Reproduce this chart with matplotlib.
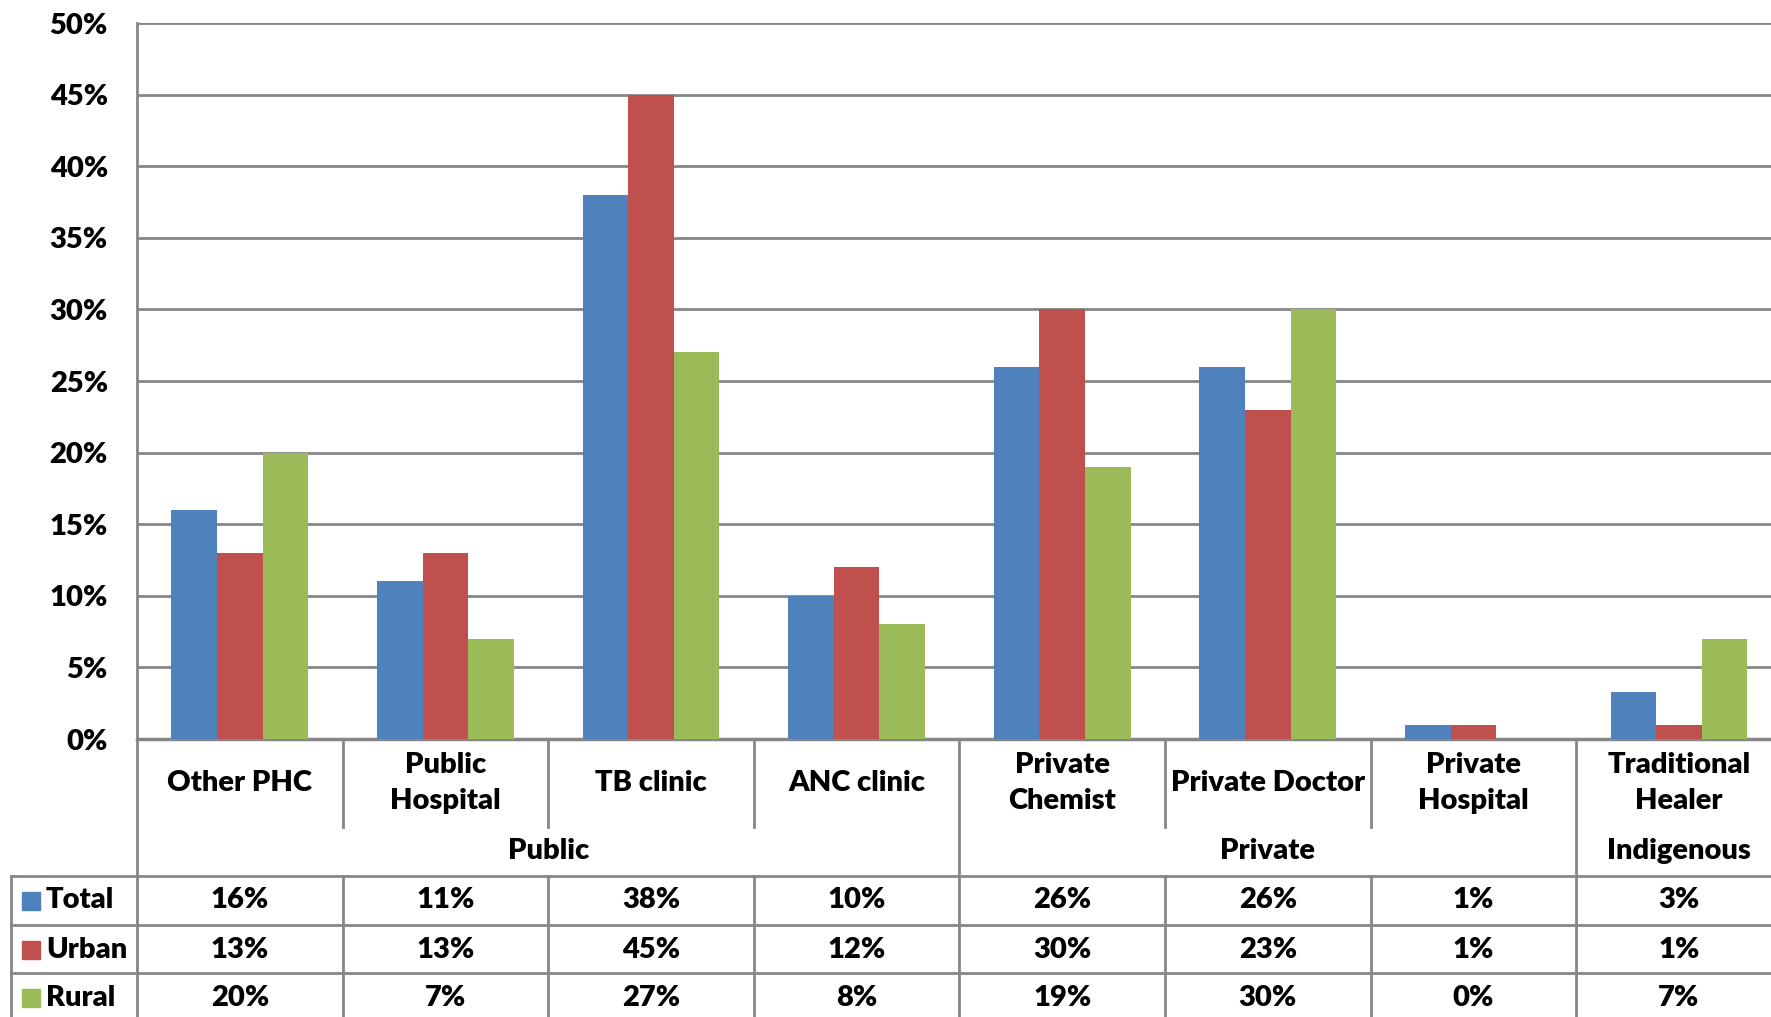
import matplotlib.pyplot as plt
import numpy as np

# facility types, grouped by sector
categories = ["Other PHC", "Public\nHospital", "TB clinic", "ANC clinic",
              "Private\nChemist", "Private Doctor", "Private\nHospital",
              "Traditional\nHealer"]
groups = [("Public", 0, 3), ("Private", 4, 6), ("Indigenous", 7, 7)]

series = ["Total", "Urban", "Rural"]
total = [16, 11, 38, 10, 26, 26, 1, 3.3]
urban = [13, 13, 45, 12, 30, 23, 1, 1]
rural = [20, 7, 27, 8, 19, 30, 0, 7]
colors = ["#4F81BD", "#C0504D", "#9BBB59"]

yticks = np.arange(0, 51, 5)

W, H = 1771, 1017
FONT = "Lato"
FS = 21
WT = "heavy"
GRID = "#868686"

plt.rcParams["font.family"] = FONT

fig = plt.figure(figsize=(W / 100, H / 100), dpi=100)

# plot area in pixels; the last column runs a little past the right edge
left, top, zero = 137, 23, 739
cw = 205.6
right = left + cw * len(categories)
ax = fig.add_axes([left / W, (H - zero) / H, (right - left) / W, (zero - top) / H])

x = np.arange(len(categories))
bw = 0.222
for i, (vals, c) in enumerate(zip([total, urban, rural], colors)):
    ax.bar(x + (i - 1) * bw, vals, bw, color=c, zorder=3)

ax.set_xlim(-0.5, len(categories) - 0.5)
ax.set_ylim(0, 50)
ax.set_yticks(yticks)
ax.set_yticklabels([f"{t}%" for t in yticks], fontsize=FS, fontweight=WT)
ax.tick_params(axis="y", length=0, pad=21)
ax.set_xticks([])
ax.grid(axis="y", color=GRID, linewidth=2, zorder=0)
for s in ["top", "right"]:
    ax.spines[s].set_visible(False)
ax.spines["left"].set_color(GRID)
ax.spines["left"].set_linewidth(2)
ax.spines["bottom"].set_color(GRID)
ax.spines["bottom"].set_linewidth(2.5)

# data table underneath, drawn in pixel coordinates
tab = fig.add_axes([0, 0, 1, 1])
tab.set_xlim(0, W)
tab.set_ylim(H, 0)
tab.axis("off")

edges = [left + k * cw for k in range(len(categories) + 1)]
label_bot, group_bot = 827, 876
row_lines = [876, 925, 973]
row_h = 49
tab_left = 11

lk = dict(color=GRID, linewidth=2)
# left edge of plot column
tab.plot([left, left], [zero, H], **lk)
# separators in category label row; sector borders run straight through
group_edges = {g[1] for g in groups}
for k in range(1, len(categories)):
    if k in group_edges:
        tab.plot([edges[k], edges[k]], [zero, H], **lk)
    else:
        tab.plot([edges[k], edges[k]], [zero, label_bot], **lk)
        tab.plot([edges[k], edges[k]], [group_bot, H], **lk)
for y in row_lines:
    tab.plot([tab_left, W], [y, y], **lk)
tab.plot([tab_left, tab_left], [group_bot, H], **lk)

for k, name in enumerate(categories):
    tab.text(edges[k] + cw / 2, 783, name, ha="center", va="center",
             fontsize=FS, fontweight=WT, linespacing=1.45)

for name, a, b in groups:
    tab.text((edges[a] + edges[b + 1]) / 2, 851, name, ha="center",
             va="center", fontsize=FS, fontweight=WT)

for r, (name, vals, c) in enumerate(zip(series, [total, urban, rural], colors)):
    yc = row_lines[r] + row_h / 2
    tab.add_patch(plt.Rectangle((22, yc - 9), 18, 18, color=c))
    tab.text(46, yc, name, ha="left", va="center", fontsize=FS,
             fontweight=WT)
    for k, v in enumerate(vals):
        tab.text(edges[k] + cw / 2, yc, f"{v:.0f}%", ha="center",
                 va="center", fontsize=FS, fontweight=WT)

fig.savefig("out.png", dpi=100)
